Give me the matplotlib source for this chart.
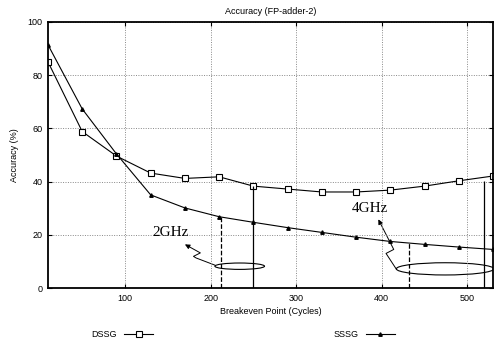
import matplotlib
matplotlib.use("Agg")
import matplotlib.pyplot as plt
import numpy as np
from matplotlib.patches import Ellipse, FancyArrowPatch
from matplotlib.path import Path

# data
cycles = [10, 50, 90, 130, 170, 210, 250, 290, 330, 370, 410, 450, 490, 530]
dssg = [85.0, 58.8, 49.6, 43.2, 41.2, 41.8, 38.3, 37.2, 36.1, 36.1, 36.8, 38.3, 40.3, 42.1]
sssg = [91.4, 67.3, 50.4, 35.0, 30.1, 26.8, 24.7, 22.7, 20.9, 19.1, 17.5, 16.4, 15.4, 14.5]

# annotation marks: (x, top, style)
markers_2ghz = [(212, 27.0, "--"), (250, 38.3, "-")]
markers_4ghz = [(432, 17.0, "--"), (520, 40.2, "-")]

plt.rcParams["font.family"] = ["Liberation Sans", "DejaVu Sans"]

fig = plt.figure(figsize=(4.98, 3.47), dpi=100)
ax = fig.add_axes([0.0964, 0.170, 0.8936, 0.7666])

ax.plot(cycles, dssg, color="black", lw=0.8, marker="s", ms=4,
        mfc="white", mec="black", mew=0.8, label="DSSG")
ax.plot(cycles, sssg, color="black", lw=0.8, marker="^", ms=2.5,
        mfc="black", mec="black", label="SSSG")

for x, top, ls in markers_2ghz + markers_4ghz:
    ax.vlines(x, 0, top, colors="black", linestyles=ls, lw=0.9)

# ellipses
ax.add_patch(Ellipse((234, 8.2), 58, 2.4, fill=False, ec="black", lw=0.8))
ax.add_patch(Ellipse((474, 7.2), 114, 4.6, fill=False, ec="black", lw=0.8))

# squiggly arrows
def squiggle(pts):
    verts = pts
    codes = [Path.MOVETO] + [Path.LINETO] * (len(pts) - 1)
    p = FancyArrowPatch(path=Path(verts, codes), arrowstyle="-|>",
                        mutation_scale=7, color="black", lw=0.7)
    ax.add_patch(p)

squiggle([(205, 8.6), (183, 11.3), (180, 11.9), (188, 13.2), (170, 16.4)])
squiggle([(417, 7.1), (405, 13.0), (414, 14.5), (396, 25.8)])

ax.text(153, 20.7, "2GHz", family="Liberation Serif", fontsize=11,
        ha="center", va="center")
ax.text(386, 30.0, "4GHz", family="Liberation Serif", fontsize=11,
        ha="center", va="center")

ax.set_xlim(10, 530)
ax.set_ylim(0, 100)
ax.set_xticks([100, 200, 300, 400, 500])
ax.set_yticks([0, 20, 40, 60, 80, 100])
ax.grid(True, color="#888888", ls=(0, (1, 1.5)), lw=0.7)
ax.tick_params(direction="in", top=True, right=True, labelsize=6.5,
               length=3, width=0.8, pad=4)
for s in ax.spines.values():
    s.set_linewidth(1.3)

ax.set_title("Accuracy (FP-adder-2)", fontsize=6.5, pad=6)
ax.set_xlabel("Breakeven Point (Cycles)", fontsize=6.5, labelpad=3)
ax.set_ylabel("Accuracy (%)", fontsize=6.5, labelpad=6)

fig.legend(*ax.get_legend_handles_labels(), loc="center",
           bbox_to_anchor=(0.488, 0.035), ncol=2,
           frameon=False, markerfirst=False, fontsize=6.5,
           columnspacing=20, handlelength=3.2, handletextpad=0.8)

fig.savefig("out.png", dpi=100)
